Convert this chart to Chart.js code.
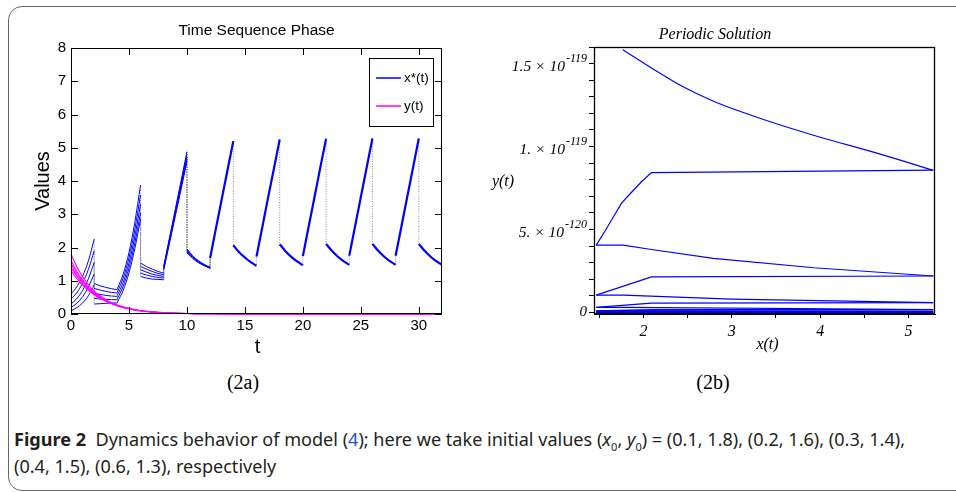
<!DOCTYPE html>
<html>
<head>
<meta charset="utf-8">
<script src="https://cdn.jsdelivr.net/npm/chart.js@4.4.1/dist/chart.umd.min.js"></script>
<style>
  body { margin: 0; background: #fff; width: 956px; height: 492px; overflow: hidden; position: relative; }
  .frame { position: absolute; left: 8px; top: 6px; width: 1000px; height: 485px; border: 1.5px solid #666; border-radius: 14px; box-sizing: border-box; }
  #timeChart { position: absolute; left: 0; top: 0; }
  #phaseChart { position: absolute; left: 480px; top: 0; }
  .sub { position: absolute; top: 370px; width: 100px; text-align: center; font-family: "Liberation Serif", serif; font-size: 20px; line-height: 24px; color: #000; }
  #cap { position: absolute; left: 14px; top: 426px; font-family: "Noto Sans", sans-serif; font-size: 18px; line-height: 27px; color: #231f20; white-space: nowrap; transform-origin: 0 0; }
  #cap b { font-weight: 700; }
  #cap sub { font-size: 11px; line-height: 0; }
  #cap .ref { color: #2255cc; }
</style>
</head>
<body>
<div class="frame"></div>
<canvas id="timeChart" width="475" height="360"></canvas>
<canvas id="phaseChart" width="476" height="360"></canvas>
<div class="sub" style="left:193px">(2a)</div>
<div class="sub" style="left:663px">(2b)</div>
<div id="cap"><span id="capLine1"><b>Figure 2</b>&nbsp; Dynamics behavior of model (<span class="ref">4</span>); here we take initial values (<i>x</i><sub>0</sub>, <i>y</i><sub>0</sub>) = (0.1, 1.8), (0.2, 1.6), (0.3, 1.4),</span><br>(0.4, 1.5), (0.6, 1.3), respectively</div>

<script>
// ---------- (2a) time series ----------
// each impulse period is 2 time units, sampled at these offsets
const segTimes = [0, 0.5, 1, 1.5, 2];

// x*(t) for the five initial values, segments from t=0 to t=12
const xRun1 = [
  [0.6, 0.82, 1.14, 1.6, 2.25],
  [0.92, 0.85, 0.8, 0.76, 0.73],
  [0.76, 1.2, 1.85, 2.75, 3.88],
  [1.53, 1.43, 1.35, 1.28, 1.23],
  [1.45, 2.3, 3.16, 4.02, 4.88],
  [1.96, 1.75, 1.6, 1.49, 1.41]
];
const xRun2 = [
  [0.45, 0.64, 0.93, 1.34, 1.9],
  [0.77, 0.72, 0.68, 0.65, 0.63],
  [0.66, 1.08, 1.69, 2.53, 3.58],
  [1.43, 1.35, 1.28, 1.22, 1.18],
  [1.42, 2.26, 3.1, 3.94, 4.8],
  [1.93, 1.73, 1.59, 1.48, 1.4]
];
const xRun3 = [
  [0.3, 0.46, 0.71, 1.06, 1.55],
  [0.62, 0.59, 0.56, 0.54, 0.53],
  [0.56, 0.95, 1.53, 2.32, 3.3],
  [1.33, 1.26, 1.2, 1.16, 1.13],
  [1.39, 2.22, 3.05, 3.88, 4.72],
  [1.9, 1.71, 1.57, 1.47, 1.39]
];
const xRun4 = [
  [0.2, 0.32, 0.52, 0.81, 1.2],
  [0.47, 0.45, 0.44, 0.43, 0.43],
  [0.46, 0.83, 1.38, 2.13, 3.05],
  [1.23, 1.17, 1.13, 1.1, 1.08],
  [1.36, 2.18, 3.0, 3.82, 4.66],
  [1.87, 1.69, 1.56, 1.46, 1.38]
];
const xRun5 = [
  [0.1, 0.19, 0.33, 0.55, 0.88],
  [0.3, 0.31, 0.32, 0.33, 0.33],
  [0.36, 0.71, 1.24, 1.96, 2.85],
  [1.13, 1.08, 1.05, 1.04, 1.03],
  [1.33, 2.14, 2.95, 3.76, 4.58],
  [1.84, 1.67, 1.54, 1.45, 1.37]
];
// after t=12 all runs coincide
const xSteady = [
  [1.68, 2.57, 3.45, 4.33, 5.2],
  [2.07, 1.86, 1.7, 1.56, 1.45],
  [1.73, 2.61, 3.5, 4.37, 5.25],
  [2.1, 1.89, 1.72, 1.58, 1.47],
  [1.74, 2.63, 3.51, 4.4, 5.27],
  [2.11, 1.9, 1.73, 1.59, 1.48],
  [1.75, 2.63, 3.52, 4.4, 5.28],
  [2.11, 1.9, 1.73, 1.59, 1.48],
  [1.75, 2.63, 3.52, 4.4, 5.28],
  [2.11, 1.9, 1.73, 1.59, 1.48]
];
const steadyStart = 12;

// y(t) for the five runs
const yTimes = [0, 0.5, 1, 1.5, 2, 2.5, 3, 4, 5, 6, 7, 8, 10, 12, 15, 20, 32];
const yRun1 = [1.8, 1.42, 1.12, 0.88, 0.69, 0.55, 0.43, 0.27, 0.17, 0.1, 0.065, 0.04, 0.016, 0.006, 0.002, 0, 0];
const yRun2 = [1.6, 1.28, 1.02, 0.81, 0.65, 0.52, 0.41, 0.26, 0.16, 0.1, 0.063, 0.04, 0.016, 0.006, 0.002, 0, 0];
const yRun3 = [1.4, 1.14, 0.92, 0.75, 0.61, 0.49, 0.39, 0.25, 0.16, 0.1, 0.061, 0.039, 0.015, 0.006, 0.002, 0, 0];
const yRun4 = [1.5, 1.21, 0.97, 0.78, 0.63, 0.5, 0.4, 0.25, 0.16, 0.1, 0.062, 0.039, 0.015, 0.006, 0.002, 0, 0];
const yRun5 = [1.3, 1.07, 0.87, 0.71, 0.58, 0.47, 0.38, 0.24, 0.15, 0.095, 0.06, 0.038, 0.015, 0.006, 0.002, 0, 0];

const legendNames = ["x*(t)", "y(t)"];

// ---------- (2b) phase plane, y in units of 1e-120 ----------
const orbit1 = { x: [1.766, 2.113, 2.416, 2.793, 3.359, 3.925, 4.68, 5.28], y: [15.84, 14.66, 13.69, 12.73, 11.63, 10.68, 9.54, 8.57] };
const orbit2 = { x: [1.465, 1.567, 1.66, 1.75, 1.87, 1.98, 2.09, 5.28], y: [4.05, 4.92, 5.76, 6.57, 7.27, 7.89, 8.43, 8.57] };
const orbit3 = { x: [1.465, 1.77, 2.09, 2.79, 3.93, 5.28], y: [4.05, 4.05, 3.79, 3.25, 2.69, 2.19] };
const orbit4 = { x: [1.465, 2.09, 5.28], y: [1.04, 2.14, 2.19] };
const orbit5 = { x: [1.465, 1.77, 3.0, 5.28], y: [1.04, 1.04, 0.8, 0.58] };
const orbit6 = { x: [1.465, 2.09, 5.28], y: [0.3, 0.56, 0.58] };
const orbit7 = { x: [1.465, 1.77, 5.28], y: [0.3, 0.3, 0.17] };
const orbit8 = { x: [1.465, 2.09, 5.28], y: [0.08, 0.15, 0.16] };
const orbit9 = { x: [1.465, 5.28], y: [0.08, 0.05] };
const orbit10 = { x: [1.465, 2.09, 5.28], y: [0.02, 0.04, 0.04] };
const orbit11 = { x: [1.465, 5.28], y: [0, 0] };

const phaseTickValues = [0, 5, 10, 15];
const phaseTickText = ["0", "5. \u00d7 10", "1. \u00d7 10", "1.5 \u00d7 10"];
const phaseTickExp = ["", "-120", "-119", "-119"];

const BLUE = "#0000ff";
const MAGENTA = "#ff00ff";

Chart.defaults.font.family = "'Liberation Sans', Arial, sans-serif";
Chart.defaults.color = "#000";

function runPoints(segs, start) {
  let pts = [];
  segs.forEach((seg, i) => {
    const t0 = start + i * 2;
    seg.forEach((v, j) => pts.push({ x: t0 + segTimes[j], y: v }));
    pts.push({ x: t0 + 2, y: null });
  });
  return pts;
}

// dotted vertical lines at each impulse
function jumpPoints(runs) {
  let pts = [];
  const addJump = (t, a, b) => { pts.push({ x: t, y: a }, { x: t, y: b }, { x: t, y: null }); };
  runs.forEach(segs => {
    for (let i = 0; i < segs.length - 1; i++) addJump((i + 1) * 2, segs[i][4], segs[i + 1][0]);
    addJump(steadyStart, segs[segs.length - 1][4], xSteady[0][0]);
  });
  for (let i = 0; i < xSteady.length - 1; i++) addJump(steadyStart + (i + 1) * 2, xSteady[i][4], xSteady[i + 1][0]);
  return pts;
}

const xRuns = [xRun1, xRun2, xRun3, xRun4, xRun5];
const yRuns = [yRun1, yRun2, yRun3, yRun4, yRun5];

let timeSets = [];
yRuns.forEach((r, i) => {
  timeSets.push({
    label: i === 0 ? legendNames[1] : "",
    data: r.map((v, j) => ({ x: yTimes[j], y: v })),
    borderColor: MAGENTA, borderWidth: 1.1, order: 0, clip: 3
  });
});
xRuns.forEach((r, i) => {
  timeSets.push({
    label: i === 0 ? legendNames[0] : "",
    data: runPoints(r, 0),
    borderColor: BLUE, borderWidth: 1, order: 1
  });
});
timeSets.push({ label: "", data: runPoints(xSteady, steadyStart), borderColor: BLUE, borderWidth: 2.2, order: 1 });
timeSets.push({ label: "", data: jumpPoints(xRuns), borderColor: "#8a8a8a", borderWidth: 1, borderDash: [1, 1.5], order: 2, cubicInterpolationMode: "default", tension: 0 });

const timeFrame = {
  id: "timeFrame",
  afterDraw(chart) {
    const { ctx, chartArea: a, scales: { x, y } } = chart;
    const fam = "'Liberation Sans', Arial, sans-serif";
    ctx.save();
    ctx.strokeStyle = "#000";
    ctx.lineWidth = 1;
    ctx.strokeRect(a.left + 0.5, a.top + 0.5, a.right - a.left - 1, a.bottom - a.top - 1);
    ctx.beginPath();
    x.ticks.forEach(t => {
      const px = Math.round(x.getPixelForValue(t.value)) + 0.5;
      ctx.moveTo(px, a.bottom); ctx.lineTo(px, a.bottom - 7);
      ctx.moveTo(px, a.top); ctx.lineTo(px, a.top + 7);
    });
    y.ticks.forEach(t => {
      const py = Math.round(y.getPixelForValue(t.value)) + 0.5;
      ctx.moveTo(a.left, py); ctx.lineTo(a.left + 7, py);
      ctx.moveTo(a.right, py); ctx.lineTo(a.right - 7, py);
    });
    ctx.stroke();

    // titles
    ctx.fillStyle = "#000";
    ctx.textAlign = "center";
    ctx.textBaseline = "middle";
    const cx = (a.left + a.right) / 2;
    ctx.font = "15.5px " + fam;
    ctx.fillText("Time Sequence Phase", cx, a.top - 17);
    ctx.font = "20px " + fam;
    ctx.fillText("t", cx + 1, a.bottom + 33);
    ctx.save();
    ctx.translate(a.left - 28, (a.top + a.bottom) / 2);
    ctx.rotate(-Math.PI / 2);
    ctx.fillText("Values", 0, 0);
    ctx.restore();

    // legend box
    const lx = 369, ly = 58, lw = 64, lh = 68;
    ctx.fillStyle = "#fff";
    ctx.fillRect(lx, ly, lw, lh);
    ctx.strokeRect(lx + 0.5, ly + 0.5, lw, lh);
    const colors = [BLUE, MAGENTA];
    legendNames.forEach((name, i) => {
      const yy = ly + 20 + i * 28;
      ctx.strokeStyle = colors[i];
      ctx.lineWidth = 1.5;
      ctx.beginPath(); ctx.moveTo(lx + 7, yy); ctx.lineTo(lx + 32, yy); ctx.stroke();
      ctx.fillStyle = "#000";
      ctx.textAlign = "left";
      ctx.font = "13.5px " + fam;
      ctx.fillText(name, lx + 35, yy);
    });
    ctx.restore();
  }
};

new Chart(document.getElementById("timeChart"), {
  type: "line",
  data: { datasets: timeSets },
  options: {
    responsive: false,
    animation: false,
    layout: { padding: { left: 0, top: 48, right: 33, bottom: 0 } },
    elements: { point: { radius: 0 }, line: { cubicInterpolationMode: "monotone" } },
    plugins: { legend: { display: false }, tooltip: { enabled: false } },
    scales: {
      x: {
        type: "linear", min: 0, max: 32,
        grid: { display: false, drawTicks: false }, border: { display: false },
        ticks: { stepSize: 5, includeBounds: false, padding: 3, font: { size: 15 }, maxRotation: 0 },
        afterFit: s => { s.height = 46; }
      },
      y: {
        min: 0, max: 8,
        grid: { display: false, drawTicks: false }, border: { display: false },
        ticks: { stepSize: 1, padding: 5, font: { size: 15 } },
        afterFit: s => { s.width = 71; }
      }
    }
  },
  plugins: [timeFrame]
});

// ---------- (2b) ----------
const orbits = [orbit1, orbit2, orbit3, orbit4, orbit5, orbit6, orbit7, orbit8, orbit9, orbit10, orbit11];
const phaseSets = orbits.map((o, i) => ({
  data: o.x.map((v, j) => ({ x: v, y: o.y[j] })),
  borderColor: BLUE,
  borderWidth: i > 6 ? 1.6 : 1.2,
  tension: i === 0 ? 0.4 : 0,
  cubicInterpolationMode: i === 0 ? "monotone" : "default",
  clip: 2
}));

const phaseFrame = {
  id: "phaseFrame",
  afterDraw(chart) {
    const { ctx, chartArea: a, scales: { y } } = chart;
    ctx.save();
    ctx.strokeStyle = "#000";
    ctx.lineWidth = 1.3;
    ctx.strokeRect(a.left + 0.5, a.top + 0.5, a.right - a.left - 1, a.bottom - a.top - 1);
    ctx.fillStyle = "#000";
    ctx.textBaseline = "middle";
    const right = a.left - 7;
    phaseTickValues.forEach((v, i) => {
      const py = y.getPixelForValue(v);
      ctx.textAlign = "right";
      if (!phaseTickExp[i]) {
        ctx.font = "italic 15px 'Liberation Serif'";
        ctx.fillText(phaseTickText[i], right, py);
        return;
      }
      ctx.font = "italic 12px 'Liberation Serif'";
      const ew = ctx.measureText(phaseTickExp[i]).width;
      ctx.fillText(phaseTickExp[i], right, py - 5);
      ctx.font = "italic 15.5px 'Liberation Serif'";
      ctx.fillText(phaseTickText[i], right - ew - 1, py + 3);
    });
    ctx.textAlign = "center";
    ctx.font = "italic 16px 'Liberation Serif'";
    ctx.fillText("Periodic Solution", a.left + 121, a.top - 12);
    ctx.fillText("y(t)", 23, 182);
    ctx.fillText("x(t)", (a.left + a.right) / 2 + 3, a.bottom + 31);
    ctx.restore();
  }
};

new Chart(document.getElementById("phaseChart"), {
  type: "line",
  data: { datasets: phaseSets },
  options: {
    responsive: false,
    animation: false,
    layout: { padding: { left: 0, top: 47, right: 21, bottom: 0 } },
    elements: { point: { radius: 0 } },
    plugins: { legend: { display: false }, tooltip: { enabled: false } },
    scales: {
      x: {
        type: "linear", min: 1.44, max: 5.3,
        grid: { drawOnChartArea: false, tickLength: 4, tickColor: "#000" },
        border: { color: "#000" },
        ticks: {
          stepSize: 0.5, includeBounds: false, autoSkip: false, maxRotation: 0, padding: 4,
          font: { family: "Liberation Serif", style: "italic", size: 16 },
          callback: v => Number.isInteger(v) ? String(v) : ""
        },
        afterFit: s => { s.height = 46; }
      },
      y: {
        min: -0.1, max: 16,
        grid: { drawOnChartArea: false, tickLength: 5, tickColor: "#000" },
        border: { color: "#000" },
        ticks: { stepSize: 1, includeBounds: false, autoSkip: false, callback: () => "" },
        afterFit: s => { s.width = 114; }
      }
    }
  },
  plugins: [phaseFrame]
});

// squeeze the caption to the condensed width of the original
const cap = document.getElementById("cap");
const w1 = document.getElementById("capLine1").getBoundingClientRect().width;
cap.style.transform = "scaleX(" + (891 / w1).toFixed(3) + ")";
</script>
</body>
</html>
